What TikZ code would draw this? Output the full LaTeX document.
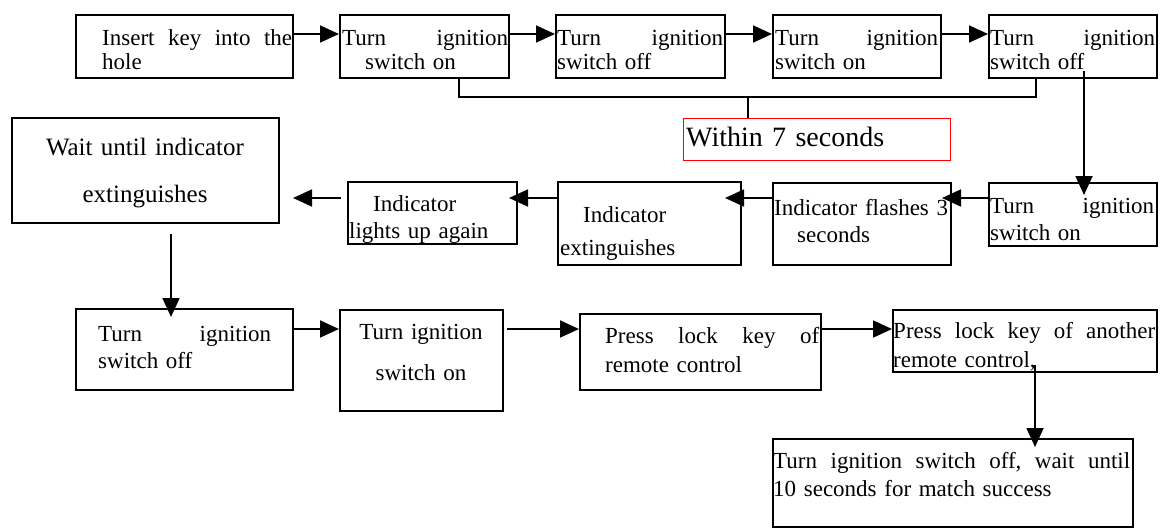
\documentclass[tikz,border=0pt]{standalone}
\usepackage{fontspec}
\setmainfont{Liberation Serif}
\usetikzlibrary{arrows.meta}
\begin{document}
\begin{tikzpicture}[x=1pt,y=-1pt,
  box/.style={draw, line width=1.8pt, inner sep=0pt, anchor=north west},
  txt/.style={inner sep=0pt, anchor=base west, align=left, text width=380pt, font=\fontsize{23}{27}\selectfont},
  ctxt/.style={inner sep=0pt, anchor=base, align=center, text width=260pt},
  arr/.style={line width=1.8pt, -{Triangle[length=19pt,width=17pt]}},
  ln/.style={line width=1.8pt}]
\useasboundingbox (0,0) rectangle (1169,527);
% row 1
\node[box, minimum width=217pt, minimum height=63pt] (b1) at (75,14) {};
\node[box, minimum width=169pt, minimum height=63pt] (b2) at (339,14) {};
\node[box, minimum width=169pt, minimum height=63pt] (b3) at (555,14) {};
\node[box, minimum width=168pt, minimum height=63pt] (b4) at (772,14) {};
\node[box, minimum width=168pt, minimum height=63pt] (b5) at (988,14) {};
\node[txt, font=\fontsize{23}{24}\selectfont] (t1) at (102,46) {\makebox[190pt]{Insert\hfill key\hfill into\hfill the}\\hole};
\node[txt, font=\fontsize{23}{24}\selectfont] (t2) at (342,46) {\makebox[166pt]{Turn\hfill ignition}\\\hspace*{23pt}switch on};
\node[txt, font=\fontsize{23}{24}\selectfont] (t3) at (557,46) {\makebox[166pt]{Turn\hfill ignition}\\switch off};
\node[txt, font=\fontsize{23}{24}\selectfont] (t4) at (775,46) {\makebox[163pt]{Turn\hfill ignition}\\switch on};
\node[txt, font=\fontsize{23}{24}\selectfont] (t5) at (990,46) {\makebox[165pt]{Turn\hfill ignition}\\switch off};
% bracket and red note
\node[box, draw=red, line width=1.4pt, minimum width=267pt, minimum height=42pt] (red) at (683,118) {};
\node[txt, font=\fontsize{28}{30}\selectfont] (tred) at (686,146) {Within 7 seconds};
\coordinate (br) at (748,97);
\draw[ln] (b2.south -| 459,0) -- (459,97) -- (1036,97) -- (b5.south -| 1036,0);
\draw[ln] (br) -- (red.north -| br);
% row 2
\node[box, minimum width=267pt, minimum height=105pt] (wait) at (11,117) {};
\node[box, minimum width=169pt, minimum height=62pt] (lights) at (347,181) {};
\node[box, minimum width=183pt, minimum height=83pt] (ext) at (557,181) {};
\node[box, minimum width=178pt, minimum height=82pt] (flash) at (772,182) {};
\node[box, minimum width=168pt, minimum height=63pt] (on2) at (988,182) {};
\node[ctxt, font=\fontsize{25}{47}\selectfont] (twait) at (145,155) {Wait until indicator\\extinguishes};
\node[txt] (tlights) at (349,211) {\hspace*{24pt}Indicator\\lights up again};
\node[txt, font=\fontsize{23}{33}\selectfont] (text) at (560,222) {\hspace*{23pt}Indicator\\extinguishes};
\node[txt] (tflash) at (774,215) {\makebox[174pt]{Indicator\hfill flashes\hfill 3}\\\hspace*{23pt}seconds};
\node[txt] (ton2) at (990,213) {\makebox[164pt]{Turn\hfill ignition}\\switch on};
% row 3
\node[box, minimum width=217pt, minimum height=81pt] (off3) at (75,308) {};
\node[box, minimum width=163pt, minimum height=101pt] (on3) at (339,309) {};
\node[box, minimum width=241pt, minimum height=76pt] (press) at (579,313) {};
\node[box, minimum width=264pt, minimum height=62pt] (another) at (892,309) {};
\node[box, minimum width=360pt, minimum height=88pt] (final) at (772,438) {};
\node[txt] (toff3) at (98,341) {\makebox[173pt]{Turn\hfill ignition}\\switch off};
\node[ctxt, font=\fontsize{23}{41}\selectfont] (ton3) at (421,339) {Turn ignition\\switch on};
\node[txt, font=\fontsize{23}{29}\selectfont] (tpress) at (605,343) {\makebox[214pt]{Press\hfill lock\hfill key\hfill of}\\remote control};
\node[txt, font=\fontsize{23}{29}\selectfont] (tanother) at (893,338) {\makebox[262pt]{Press\hfill lock\hfill key\hfill of\hfill another}\\remote control,};
\node[txt, font=\fontsize{23}{28}\selectfont] (tfinal) at (773,468) {\makebox[357pt]{Turn\hfill ignition\hfill switch\hfill off,\hfill wait\hfill until}\\10 seconds for match success};
% arrows
\draw[arr] (b1.east |- 0,34) -- (b2.west |- 0,34);
\draw[arr] (b2.east |- 0,34) -- (b3.west |- 0,34);
\draw[arr] (b3.east |- 0,34) -- (b4.west |- 0,34);
\draw[arr] (b4.east |- 0,34) -- (b5.west |- 0,34);
\coordinate (s5) at (1084,71);
\coordinate (e5) at (1084,195);
\draw[arr] (s5) -- (e5);
\coordinate (e6) at (942,198);
\draw[arr] (on2.west |- 0,198) -- (e6);
\coordinate (e7) at (725,198);
\draw[arr] (flash.west |- 0,198) -- (e7);
\coordinate (e8) at (509,198);
\draw[arr] (ext.west |- 0,198) -- (e8);
\coordinate (s9) at (341,198);
\coordinate (e9) at (293,198);
\draw[arr] (s9) -- (e9);
\coordinate (s10) at (171,234);
\coordinate (e10) at (171,317);
\draw[arr] (s10) -- (e10);
\draw[arr] (off3.east |- 0,329) -- (on3.west |- 0,329);
\coordinate (s12) at (507,329);
\draw[arr] (s12) -- (press.west |- 0,329);
\draw[arr] (press.east |- 0,329) -- (another.west |- 0,329);
\coordinate (s14) at (1035,365);
\coordinate (e14) at (1035,447);
\draw[arr] (s14) -- (e14);
\end{tikzpicture}
\end{document}
